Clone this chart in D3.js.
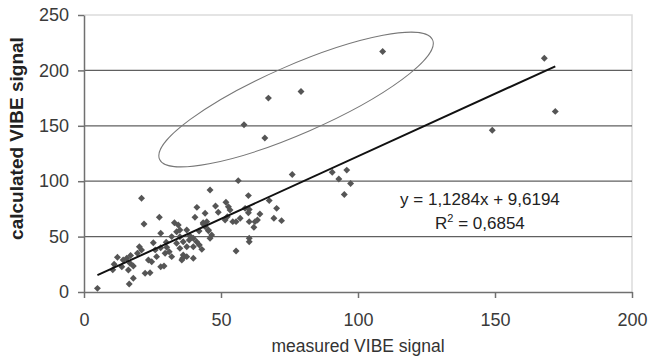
<!DOCTYPE html>
<html>
<head>
<meta charset="utf-8">
<script src="https://cdn.jsdelivr.net/npm/d3@7"></script>
<style>
body { margin: 0; background: #fff; }
text { font-family: "Liberation Sans", Arial, sans-serif; }
</style>
</head>
<body>
<div class="chart"></div>
<script>
const width = 649
const height = 362
const margin = { top: 15, right: 17, bottom: 70, left: 84 }
const innerWidth = width - margin.left - margin.right
const innerHeight = height - margin.top - margin.bottom

// measured vs calculated VIBE signal
const measured = [
    4.9, 109, 79.2, 67.3, 58.4, 66, 168, 172, 149,
    90.6, 95.9, 93, 97.3, 95, 76, 56.3, 46, 60, 67.6, 51.8, 48, 41.2, 21,
    52.7, 53.3, 58.8, 60.3, 70.3, 64.2, 44.2, 60, 57, 52.3, 51.5, 54.3, 55.5, 69.3, 72.1,
    60.3, 62.4, 63.3, 62, 44.8, 43.5, 45.4, 46.6, 46, 60.3, 60.3, 43, 55.5,
    27.5, 21.9, 40.5, 33, 34.4, 35, 33.8, 28, 25.3, 20.2, 21, 19.5,
    12.2, 14.3, 15.6, 16.8, 13.8, 18, 16.2, 22.3, 24.1, 18, 16.5, 28,
    30.2, 31.1, 29.6, 32, 35, 36.2, 33.8, 37.5, 35, 36.2, 37.5, 35.7, 39.9, 38.4, 39.9, 42.1, 41.1,
    23.5, 24.7, 26.5, 37.5, 38.7, 39.9, 43.5, 44.2, 45.4, 36, 29.2,
    10.5, 11, 17, 26, 30, 32, 42, 28, 49
]
const calculated = [
    3.3, 217, 181, 175, 151, 139, 211, 163, 146,
    108, 110, 102, 98, 88, 106, 100.5, 92, 87, 82.5, 81, 77.6, 76.4, 84.6,
    77, 74, 75.5, 74.5, 75.5, 70.4, 71, 71.6, 66.5, 68, 65, 63.5, 63.5, 66.5, 64.4,
    63.5, 63.5, 65, 58.4, 63.5, 61.4, 55.3, 51.4, 48.5, 48.5, 45.4, 38.5, 37,
    67.4, 61.4, 67.4, 62.5, 60.5, 56, 54.4, 53, 44.5, 40.9, 37.9, 34.9,
    31.3, 28.9, 30.4, 25.9, 22.8, 23.5, 19.9, 16.9, 17.4, 12.4, 7.2, 22.8,
    40.3, 36.4, 34.9, 31.9, 49.9, 45.4, 44, 40.9, 39.4, 33.4, 31.9, 28.9, 30.4, 46.9, 40.9, 42.4, 45.4,
    28.9, 27.3, 31.9, 56, 50.5, 48.5, 62.5, 59, 56, 30.4, 23.5,
    20, 25, 33, 38, 45, 50, 55, 40, 72
]
const xTicks = [0, 50, 100, 150, 200]
const yTicks = [0, 50, 100, 150, 200, 250]
const slope = 1.1284
const intercept = 9.6194
const rSquared = "0,6854"
const equationText = "y = 1,1284x + 9,6194"
// centre of the hand-drawn ellipse round the outliers, in data units
const ellipseCenter = [77.4, 173.7]

const data = measured.map((m, i) => ({ x: m, y: calculated[i] }))

const svg = d3.select(".chart")
    .append("svg")
    .attr("width", width)
    .attr("height", height)
    .append("g")
    .attr("transform", "translate(" + margin.left + "," + margin.top + ")")

const xScale = d3.scaleLinear()
    .domain([0, 200])
    .range([0, innerWidth])

const yScale = d3.scaleLinear()
    .domain([0, 250])
    .range([innerHeight, 0])

// plot frame (light) on top and right
svg.append("path")
    .attr("d", "M0,0H" + innerWidth + "V" + innerHeight)
    .attr("fill", "none")
    .attr("stroke", "#dcdcdc")
    .attr("stroke-width", 1.5)

// horizontal gridlines
svg.append("g")
    .selectAll("line")
    .data(yTicks.filter(d => d > 0 && d < 250))
    .join("line")
    .attr("x1", 0)
    .attr("x2", innerWidth)
    .attr("y1", d => yScale(d))
    .attr("y2", d => yScale(d))
    .attr("stroke", "#606060")
    .attr("stroke-width", 1.3)

const xAxis = d3.axisBottom(xScale)
    .tickValues(xTicks)
    .tickSize(6)
    .tickSizeOuter(0)
    .tickPadding(15)

const yAxis = d3.axisLeft(yScale)
    .tickValues(yTicks)
    .tickSize(6)
    .tickSizeOuter(0)
    .tickPadding(9)

const gx = svg.append("g")
    .attr("transform", "translate(0," + innerHeight + ")")
    .call(xAxis)

const gy = svg.append("g")
    .call(yAxis)

for (const g of [gx, gy]) {
    g.selectAll(".domain").attr("stroke", "#707070").attr("stroke-width", 1.5)
    g.selectAll(".tick line").attr("stroke", "#707070").attr("stroke-width", 1.5)
    g.selectAll("text")
        .attr("fill", "#3a3a3a")
        .style("font-size", "18px")
}

// points
svg.append("g")
    .selectAll("path")
    .data(data)
    .join("path")
    .attr("d", d3.symbol(d3.symbolSquare, 24))
    .attr("transform", d => "translate(" + xScale(d.x) + "," + yScale(d.y) + ") rotate(45)")
    .attr("fill", "#555")

// trendline
const xExtent = d3.extent(measured)
const trend = d3.line()
    .x(d => xScale(d))
    .y(d => yScale(slope * d + intercept))

svg.append("path")
    .attr("d", trend(xExtent))
    .attr("fill", "none")
    .attr("stroke", "#111")
    .attr("stroke-width", 2)

// ellipse round the outliers
svg.append("ellipse")
    .attr("cx", 0)
    .attr("cy", 0)
    .attr("rx", 149)
    .attr("ry", 34)
    .attr("transform", "translate(" + xScale(ellipseCenter[0]) + "," + yScale(ellipseCenter[1]) + ") rotate(-23.6)")
    .attr("fill", "none")
    .attr("stroke", "#777")
    .attr("stroke-width", 1)

// regression equation
const eq = svg.append("g")
    .attr("transform", "translate(" + xScale(144.5) + ",0)")
    .attr("text-anchor", "middle")
    .attr("fill", "#222")
    .style("font-size", "17px")

eq.append("text")
    .attr("y", yScale(78.5))
    .text(equationText)

const r2 = eq.append("text")
    .attr("y", yScale(56.5))
r2.append("tspan").text("R")
r2.append("tspan").attr("dy", -7).style("font-size", "11px").text("2")
r2.append("tspan").attr("dy", 7).text(" = " + rSquared)

// axis titles
svg.append("text")
    .attr("x", innerWidth / 2)
    .attr("y", innerHeight + 60)
    .attr("text-anchor", "middle")
    .attr("fill", "#333")
    .style("font-size", "17.5px")
    .text("measured VIBE signal")

svg.append("text")
    .attr("transform", "translate(" + (-61) + "," + (innerHeight / 2 - 15) + ") rotate(-90)")
    .attr("text-anchor", "middle")
    .attr("fill", "#222")
    .style("font-size", "19px")
    .style("font-weight", "bold")
    .text("calculated VIBE signal")
</script>
</body>
</html>
